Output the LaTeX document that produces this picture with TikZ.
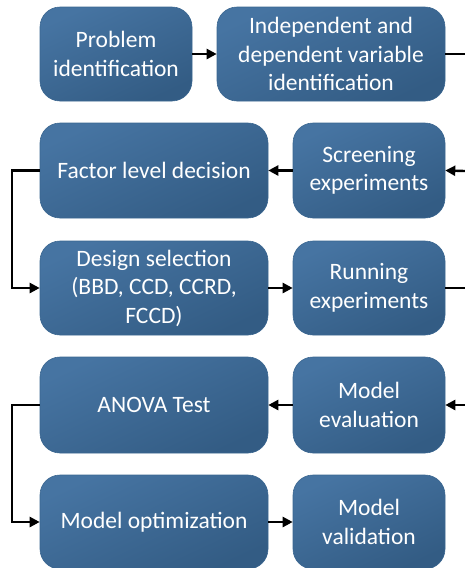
\documentclass[tikz,border=0pt]{standalone}
\usepackage{fontspec}
\setmainfont{Carlito}
\usetikzlibrary{arrows.meta}
\definecolor{boxlight}{HTML}{4674A2}
\definecolor{boxdark}{HTML}{335C84}
\definecolor{boxedge}{HTML}{3A6690}
\begin{document}
\begin{tikzpicture}[x=1pt,y=-1pt,
  box/.style={rectangle, rounded corners=20pt, draw=boxedge, line width=0.6pt,
    top color=boxlight, bottom color=boxdark, shading angle=25,
    text=white, align=center, inner sep=2pt,
    font=\fontsize{23.5}{28.5}\selectfont},
  wide/.style={box, minimum width=228pt},
  narrow/.style={box, minimum width=152pt},
  conn/.style={line width=2.4pt, black},
  arr/.style={conn, -{Triangle[length=10pt,width=10pt]}}]
\useasboundingbox (0,0) rectangle (465,568);
\node[narrow, minimum height=94pt] (p) at (116,54) {Problem\\identification};
\node[wide, minimum height=94pt] (iv) at (331,54) {Independent and\\dependent variable\\identification};
\node[wide, minimum height=95pt] (fl) at (154,170.5) {Factor level decision};
\node[narrow, minimum height=95pt] (se) at (369,170.5) {Screening\\experiments};
\node[wide, minimum height=94pt] (ds) at (154,288) {Design selection\\(BBD, CCD, CCRD,\\FCCD)};
\node[narrow, minimum height=94pt] (re) at (369,288) {Running\\experiments};
\node[wide, minimum height=96pt] (an) at (154,405) {ANOVA Test};
\node[narrow, minimum height=96pt] (me) at (369,405) {Model\\evaluation};
\node[wide, minimum height=94pt] (mo) at (154,522) {Model optimization};
\node[narrow, minimum height=94pt] (mv) at (369,522) {Model\\validation};
\coordinate (r1) at (465,54);
\coordinate (r2) at (465,171);
\coordinate (r3) at (465,288);
\coordinate (r4) at (465,405);
\draw[arr] (p.east) -- (iv.west);
\draw[conn] (iv.east) -- (r1);
\draw[arr] (r2) -- (se.east);
\draw[arr] (se.west) -- (fl.east);
\draw[arr] (fl.west) -- ++(-28,0) |- (ds.west);
\draw[arr] (ds.east) -- (re.west);
\draw[conn] (re.east) -- (r3);
\draw[arr] (r4) -- (me.east);
\draw[arr] (me.west) -- (an.east);
\draw[arr] (an.west) -- ++(-28,0) |- (mo.west);
\draw[arr] (mo.east) -- (mv.west);
\end{tikzpicture}
\end{document}
